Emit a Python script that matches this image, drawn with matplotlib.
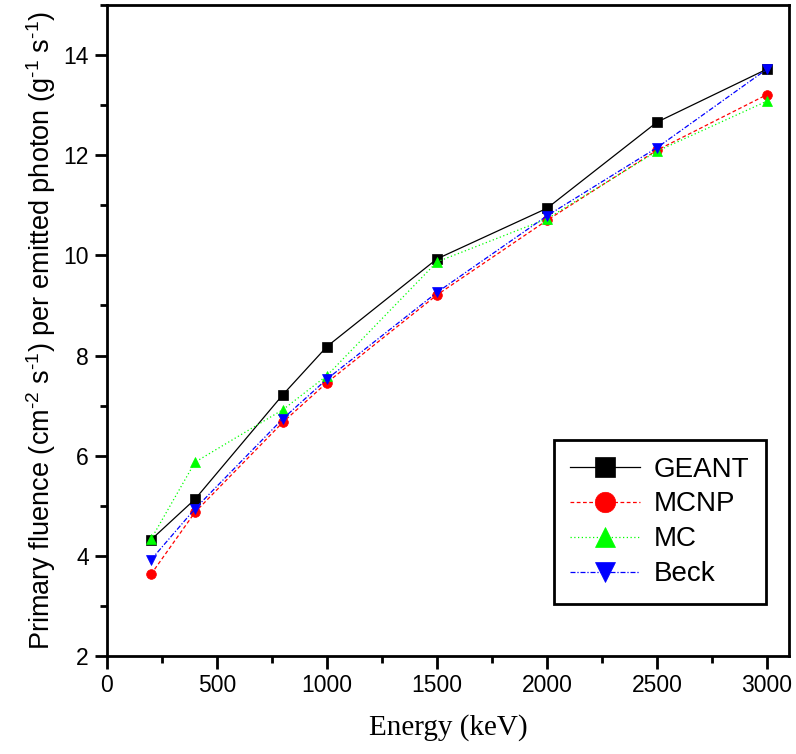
#!/usr/bin/env python3
"""Primary fluence per emitted photon vs energy, four codes compared."""

import matplotlib

matplotlib.use("Agg")
import matplotlib.pyplot as plt
from matplotlib.ticker import MultipleLocator

energy_kev = [200, 400, 800, 1000, 1500, 2000, 2500, 3000]

geant = [4.32, 5.13, 7.22, 8.18, 9.93, 10.94, 12.66, 13.72]
mcnp = [3.63, 4.87, 6.67, 7.46, 9.21, 10.70, 12.10, 13.21]
mc = [4.33, 5.87, 6.92, 7.60, 9.87, 10.73, 12.08, 13.08]
beck = [3.92, 4.94, 6.74, 7.53, 9.26, 10.79, 12.15, 13.72]

series = [
    ("GEANT", geant, "black", "-", "s"),
    ("MCNP", mcnp, "red", (0, (3, 2)), "o"),
    ("MC", mc, "#00ff00", (0, (1, 2)), "^"),
    ("Beck", beck, "blue", (0, (4, 1.5, 1, 1.5)), "v"),
]

plt.rcParams.update(
    {
        "font.family": ["Liberation Sans", "DejaVu Sans"],
        "mathtext.fontset": "custom",
        "mathtext.rm": "Liberation Sans",
        "mathtext.it": "Liberation Sans",
    }
)

fig = plt.figure(figsize=(7.96, 7.54), dpi=100)
ax = fig.add_axes([0.1344, 0.130, 0.8568, 0.8634])

for label, vals, color, ls, marker in series:
    ax.plot(
        energy_kev,
        vals,
        color=color,
        linestyle=ls,
        linewidth=0.9,
        marker=marker,
        markersize=7,
        markeredgewidth=0.5,
        markeredgecolor=color,
        label=label,
    )

ax.set_xlim(0, 3100)
ax.set_ylim(2, 15)
ax.xaxis.set_major_locator(MultipleLocator(500))
ax.xaxis.set_minor_locator(MultipleLocator(250))
ax.yaxis.set_major_locator(MultipleLocator(2))
ax.yaxis.set_minor_locator(MultipleLocator(1))

for side in ax.spines.values():
    side.set_linewidth(2)
ax.tick_params(which="major", direction="out", length=9, width=2, labelsize=16.5, pad=4)
ax.tick_params(which="minor", direction="out", length=5, width=2)

ax.set_xlabel("Energy (keV)", fontsize=21, family="Liberation Serif", labelpad=12)
ax.set_ylabel(
    "Primary fluence (cm$^{\u20102}$ s$^{\u20101}$) per emitted photon "
    "(g$^{\u20101}$ s$^{\u20101}$)",
    fontsize=19.5,
    labelpad=4,
)

leg = ax.legend(
    loc="lower right",
    bbox_to_anchor=(0.966, 0.080),
    borderaxespad=0,
    fontsize=20,
    markerscale=2.1,
    handlelength=2.5,
    handletextpad=0.5,
    labelspacing=0.32,
    borderpad=0.6,
    fancybox=False,
    edgecolor="black",
    framealpha=1,
)
leg.get_frame().set_linewidth(2)

fig.savefig("out.png", dpi=100)
